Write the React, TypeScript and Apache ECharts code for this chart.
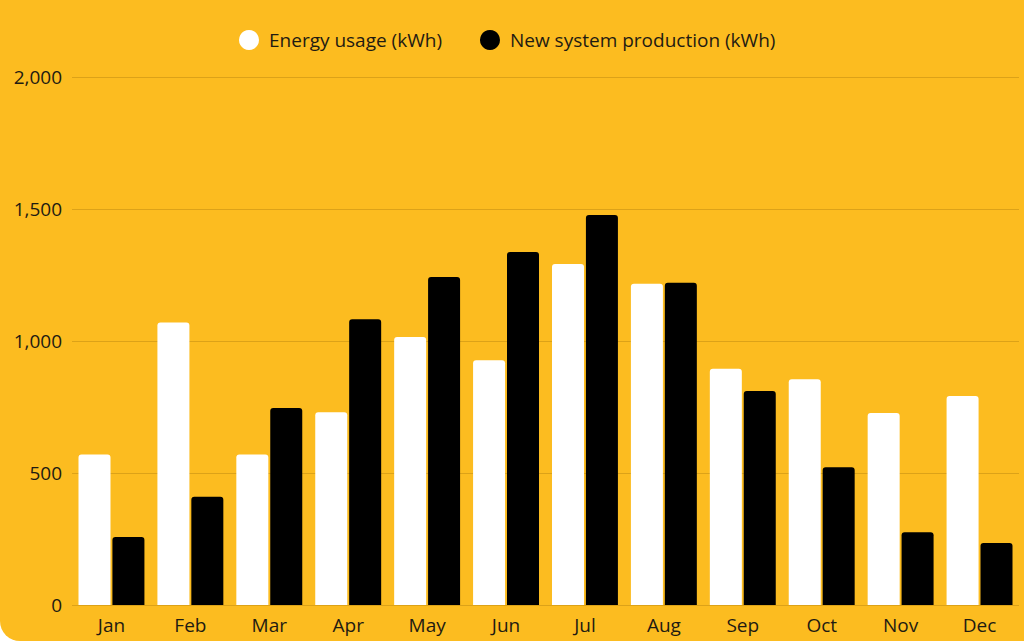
import React, { useEffect, useRef } from "react";
import * as echarts from "echarts";

const months = ["Jan", "Feb", "Mar", "Apr", "May", "Jun", "Jul", "Aug", "Sep", "Oct", "Nov", "Dec"];
const energyUsage = [570, 1070, 570, 730, 1015, 927, 1292, 1217, 895, 855, 727, 792];
const production = [258, 410, 746, 1082, 1242, 1337, 1477, 1221, 811, 522, 276, 235];
const yTicks = { min: 0, max: 2000, interval: 500 };

const FONT = "'Open Sans', sans-serif";
const TEXT = "#1f1b12";

export default function App() {
  const ref = useRef<HTMLDivElement>(null);
  useEffect(() => {
    document.body.style.margin = "0";
    const chart = echarts.init(ref.current!, undefined, { renderer: "svg" });
    chart.setOption({
      animation: false,
      backgroundColor: "transparent",
      textStyle: { fontFamily: FONT },
      legend: {
        left: 239,
        top: 30,
        padding: 0,
        icon: "circle",
        itemWidth: 20,
        itemHeight: 20,
        itemGap: 38,
        textStyle: { fontFamily: FONT, fontSize: 19, lineHeight: 20, color: TEXT, padding: [0, 0, 0, 5] },
        data: ["Energy usage (kWh)", "New system production (kWh)"],
      },
      grid: { left: 72, right: 5, top: 77, bottom: 36, containLabel: false },
      xAxis: {
        type: "category",
        data: months,
        axisLine: { show: false },
        axisTick: { show: false },
        splitLine: { show: false },
        axisLabel: { fontFamily: FONT, fontSize: 19, color: TEXT, margin: 10 },
      },
      yAxis: {
        type: "value",
        min: yTicks.min,
        max: yTicks.max,
        interval: yTicks.interval,
        axisLine: { show: false },
        axisTick: { show: false },
        splitLine: { lineStyle: { color: "#dca218", width: 1 } },
        axisLabel: {
          fontFamily: FONT,
          fontSize: 19,
          color: TEXT,
          margin: 10,
          formatter: (v: number) => v.toLocaleString("en-US"),
        },
      },
      series: [
        {
          name: "Energy usage (kWh)",
          type: "bar",
          data: energyUsage,
          barWidth: 32,
          barGap: "6%",
          itemStyle: { color: "#ffffff", borderRadius: [3, 3, 0, 0] },
        },
        {
          name: "New system production (kWh)",
          type: "bar",
          data: production,
          barWidth: 32,
          barGap: "6%",
          itemStyle: { color: "#000000", borderRadius: [3, 3, 0, 0] },
        },
      ],
    });
    return () => chart.dispose();
  }, []);
  return (
    <div
      ref={ref}
      style={{
        width: 1024,
        height: 641,
        background: "#fcbc20",
        borderBottomLeftRadius: 20,
        overflow: "hidden",
      }}
    />
  );
}
